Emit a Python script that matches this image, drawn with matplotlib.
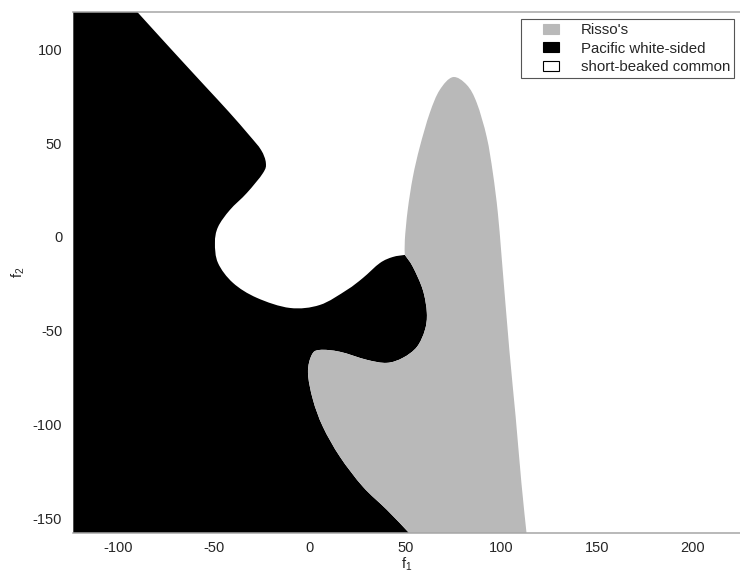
import numpy as np
import matplotlib
matplotlib.use("Agg")
import matplotlib.pyplot as plt
from matplotlib.path import Path
from matplotlib.patches import PathPatch, Patch, Rectangle
from matplotlib.legend_handler import HandlerPatch

plt.rcParams["font.family"] = ["Liberation Sans", "DejaVu Sans"]
plt.rcParams["mathtext.fontset"] = "custom"
plt.rcParams["mathtext.rm"] = "Liberation Sans"
plt.rcParams["axes.unicode_minus"] = False

# Feature-space window
x_range = [-123.5, 224.8]
y_range = [-158.0, 120.2]
x_ticks = [-100, -50, 0, 50, 100, 150, 200]
y_ticks = [-150, -100, -50, 0, 50, 100]

class_names = ["Risso's", "Pacific white-sided", "short-beaked common"]
class_colors = ["#b9b9b9", "#000000", "#ffffff"]

# Decision boundary: Pacific white-sided | short-beaked common (top edge -> triple point)
pw_sb_x = [-90.2, -78.2, -66.2, -54.2, -42.2, -31.7, -25.4, -22.9, -24.4, -32.8,
           -41.7, -47.9, -49.5, -47.9, -40.1, -27.6, -10.3, 5.3, 19.4, 27.8,
           36.7, 43.4, 49.7]
pw_sb_y = [120.2, 106.7, 93.3, 80.0, 66.7, 54.4, 46.4, 39.5, 34.1, 23.5,
           14.4, 5.3, -3.2, -13.9, -24.5, -32.5, -37.9, -36.3, -28.3, -21.9,
           -13.9, -10.7, -9.6]

# Decision boundary: Pacific white-sided | Risso's (triple point -> bottom edge)
pw_ri_x = [49.7, 53.9, 59.1, 61.2, 60.2, 56.0, 48.7, 40.3, 29.9, 15.8,
           5.3, 1.1, -0.9, 1.7, 6.9, 15.8, 27.8, 40.3, 51.3, 51.5]
pw_ri_y = [-9.6, -16.0, -28.3, -40.5, -49.6, -58.7, -64.5, -67.2, -65.6, -61.3,
           -60.3, -62.9, -72.5, -86.9, -101.3, -117.3, -133.3, -145.6, -157.3, -158.0]

# Decision boundary: Risso's | short-beaked common (triple point -> bottom edge)
ri_sb_x = [49.7, 49.7, 51.2, 53.9, 57.5, 62.7, 67.9, 74.8, 82.1, 87.3,
           92.5, 95.7, 98.3, 100.4, 104.3, 107.6, 110.6, 113.2, 113.3]
ri_sb_y = [-9.6, -1.6, 14.4, 32.0, 48.0, 66.1, 78.4, 85.3, 81.1, 71.5,
           53.3, 34.1, 12.8, -12.3, -60.3, -96.0, -131.2, -157.3, -158.0]


def smooth_segments(xs, ys):
    """Catmull-Rom curve through the given points as cubic Bezier path pieces."""
    p = np.column_stack([xs, ys]).astype(float)
    n = len(p)
    verts, codes = [], []
    for i in range(n - 1):
        p0 = p[i - 1] if i > 0 else p[i]
        p1, p2 = p[i], p[i + 1]
        p3 = p[i + 2] if i + 2 < n else p[i + 1]
        c1 = p1 + (p2 - p0) / 6.0
        c2 = p2 - (p3 - p1) / 6.0
        verts += [tuple(c1), tuple(c2), tuple(p2)]
        codes += [Path.CURVE4] * 3
    return verts, codes


fig = plt.figure(figsize=(7.40, 5.76), dpi=100)
ax = fig.add_axes([73.3 / 740, 1 - 533 / 576, 1 - 73.3 / 740, (533 - 11.7) / 576])
ax.set_xlim(x_range)
ax.set_ylim(y_range)

x0, x1 = x_range
y0, y1 = y_range

# Pacific white-sided region
v, c = [(x0, y1), (pw_sb_x[0], y1)], [Path.MOVETO, Path.LINETO]
sv, sc = smooth_segments(pw_sb_x, pw_sb_y)
v += sv; c += sc
sv, sc = smooth_segments(pw_ri_x, pw_ri_y)
v += sv; c += sc
v += [(x0, y0), (x0, y1)]; c += [Path.LINETO, Path.CLOSEPOLY]
ax.add_patch(PathPatch(Path(v, c), facecolor=class_colors[1], edgecolor="none", zorder=1))

# Risso's region
v, c = [(ri_sb_x[0], ri_sb_y[0])], [Path.MOVETO]
sv, sc = smooth_segments(ri_sb_x, ri_sb_y)
v += sv; c += sc
v += [(pw_ri_x[-1], y0)]; c += [Path.LINETO]
sv, sc = smooth_segments(pw_ri_x[::-1], pw_ri_y[::-1])
v += sv; c += sc
v += [(ri_sb_x[0], ri_sb_y[0])]; c += [Path.CLOSEPOLY]
ax.add_patch(PathPatch(Path(v, c), facecolor=class_colors[0], edgecolor="none", zorder=1))

# Axes styling
for side in ["left", "right"]:
    ax.spines[side].set_visible(False)
for side in ["top", "bottom"]:
    ax.spines[side].set_color("#a6a6a6")
    ax.spines[side].set_linewidth(1.1)
    ax.spines[side].set_zorder(3)
ax.set_xticks(x_ticks)
ax.set_yticks(y_ticks)
ax.tick_params(length=0, labelsize=10.5, colors="#262626")
ax.tick_params(axis="x", pad=6)
ax.tick_params(axis="y", pad=8)
ax.set_xlabel(r"f$_\mathregular{1}$", fontsize=10.5, color="#262626", labelpad=0)
ax.set_ylabel(r"f$_\mathregular{2}$", fontsize=10.5, color="#262626", labelpad=4)


def small_box(legend, orig_handle, xdescent, ydescent, width, height, fontsize):
    w, h = 11.5, 7.2
    return Rectangle((-xdescent + width - w, -ydescent + (height - h) / 2), w, h)


handles = [Patch(facecolor=col, edgecolor="black" if col == "#ffffff" else col, linewidth=0.8)
           for col in class_colors]
leg = ax.legend(handles, class_names, loc="upper right",
                bbox_to_anchor=(734 / 740, 1 - 19 / 576), bbox_transform=fig.transFigure,
                borderaxespad=0, fontsize=10.8, frameon=True, fancybox=False,
                edgecolor="#555555", framealpha=1, borderpad=0.25,
                handlelength=2.3, handletextpad=1.47, labelspacing=0.32,
                handler_map={Patch: HandlerPatch(patch_func=small_box)})
leg.get_frame().set_linewidth(0.8)
for t in leg.get_texts():
    t.set_color("#262626")

fig.savefig("out.png", dpi=100, facecolor="white")
